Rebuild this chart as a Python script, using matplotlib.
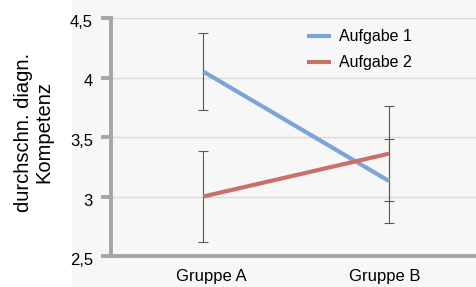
import matplotlib
matplotlib.use("Agg")
import matplotlib.pyplot as plt
import matplotlib.transforms as mtransforms
from matplotlib.patches import Rectangle
from matplotlib.ticker import FuncFormatter

groups = ["Gruppe A", "Gruppe B"]
aufgabe1 = [4.05, 3.13]
aufgabe1_err = [0.32, 0.35]
aufgabe2 = [3.0, 3.36]
aufgabe2_err = [0.38, 0.40]
series_names = ["Aufgabe 1", "Aufgabe 2"]
y_ticks = [2.5, 3.0, 3.5, 4.0, 4.5]

plt.rcParams["font.family"] = ["Liberation Sans", "DejaVu Sans"]

W, H = 477, 287
fig = plt.figure(figsize=(W / 100, H / 100), dpi=100)
fig.patches.append(Rectangle((72 / W, 0), 1 - 72 / W, 1, transform=fig.transFigure,
                             facecolor="#f7f7f7", edgecolor="none", zorder=-10))

ax = fig.add_axes([111 / W, 1 - 256 / H, 1 - 111 / W, (256 - 18) / H])
ax.set_facecolor("#f7f7f7")
x = list(range(len(groups)))

for vals, errs in [(aufgabe1, aufgabe1_err), (aufgabe2, aufgabe2_err)]:
    ax.errorbar(x, vals, yerr=errs, fmt="none", ecolor="#595959",
                elinewidth=0.8, capsize=3.5, capthick=0.8, zorder=2)
ax.plot(x, aufgabe1, color="#7ba5d7", lw=3, label=series_names[0], zorder=3,
        solid_capstyle="butt")
ax.plot(x, aufgabe2, color="#c8716a", lw=3, label=series_names[1], zorder=3,
        solid_capstyle="butt")

ax.set_xlim(-0.497, 1.474)
ax.set_ylim(2.5, 4.5)
ax.set_yticks(y_ticks)
ax.yaxis.set_major_formatter(FuncFormatter(
    lambda v, p: (f"{v:g}").replace(".", ",")))
ax.set_xticks(x)
ax.set_xticklabels(groups, fontsize=12)
ax.tick_params(axis="x", length=0, pad=9)
ax.tick_params(axis="y", length=7, width=2.8, color="#a6a6a6", labelsize=12, pad=6)
ax.grid(axis="y", color="#d9d9d9", lw=1, zorder=1)
ax.set_axisbelow(True)

# small label offsets as in the original
for lab, dx in zip(ax.get_xticklabels(), [8, -4]):
    lab.set_transform(lab.get_transform() +
                      mtransforms.ScaledTranslation(dx / 100, 0, fig.dpi_scale_trans))
for lab in ax.get_yticklabels():
    lab.set_transform(lab.get_transform() +
                      mtransforms.ScaledTranslation(0, -3 / 100, fig.dpi_scale_trans))

for side in ["top", "right"]:
    ax.spines[side].set_visible(False)
for side in ["left", "bottom"]:
    ax.spines[side].set_color("#a6a6a6")
    ax.spines[side].set_linewidth(2.8)

fig.text(34 / W, 1 - 132 / H, "durchschn. diagn.\nKompetenz", fontsize=14.5,
         rotation=90, ha="center", va="center", multialignment="center",
         linespacing=1.1)

ax.legend(loc="upper left", bbox_to_anchor=((296 - 111) / (W - 111), 1.0),
          borderaxespad=0, borderpad=0.72, frameon=False,
          fontsize=11.5, handlelength=1.45, handletextpad=0.5, labelspacing=0.68)

fig.savefig("out.png", dpi=100)
